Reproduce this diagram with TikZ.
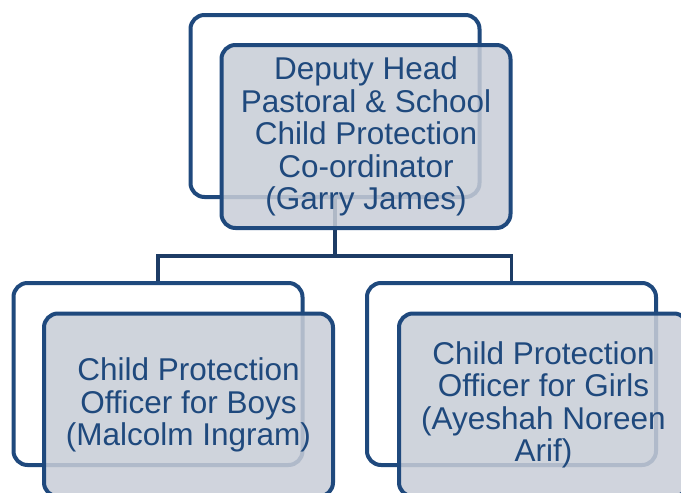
\documentclass[tikz,border=0pt]{standalone}
\usepackage{fontspec}
\setmainfont{Liberation Sans}
\usetikzlibrary{positioning}
\definecolor{chartblue}{RGB}{31,73,125}
\definecolor{chartline}{RGB}{29,60,101}
\definecolor{chartfill}{RGB}{200,205,215}

\begin{document}
\begin{tikzpicture}[x=1pt,y=-1pt,
    backbox/.style={draw=chartblue, line width=4pt, rounded corners=14pt, fill=white,
                    minimum width=289pt, minimum height=182pt, inner sep=0pt},
    frontbox/.style={draw=chartblue, line width=4pt, rounded corners=14pt,
                     fill=chartfill, fill opacity=0.86, text opacity=1, text=chartblue,
                     minimum width=289pt, minimum height=183pt, inner sep=0pt,
                     align=center, font=\fontsize{31.5}{32.5}\selectfont},
    link/.style={draw=chartline, line width=3.5pt}]

   % Frame
   \useasboundingbox (0,0) rectangle (681,493);
   \clip (0,0) rectangle (681,493);

   % Back boxes
   \node[backbox] (deputyback) at (335,106) {};
   \node[backbox] (boysback) at (158,374) {};
   \node[backbox] (girlsback) at (511.5,374) {};

   % Connectors
   \coordinate (bar) at (335,256);
   \draw[link] (deputyback.south) -- (bar);
   \draw[link] (boysback.north) |- (bar) -| (girlsback.north);

   % Front boxes
   \node[frontbox] (deputy) at ([shift={(31,30.5)}]deputyback.center)
        {Deputy Head\\Pastoral \& School\\Child Protection\\Co-ordinator\\(Garry James)};
   \node[frontbox] (boys) at ([shift={(30.5,31)}]boysback.center)
        {Child Protection\\Officer for Boys\\(Malcolm Ingram)};
   \node[frontbox] (girls) at ([shift={(32,31)}]girlsback.center)
        {Child Protection\\Officer for Girls\\(Ayeshah Noreen\\Arif)};

\end{tikzpicture}
\end{document}
